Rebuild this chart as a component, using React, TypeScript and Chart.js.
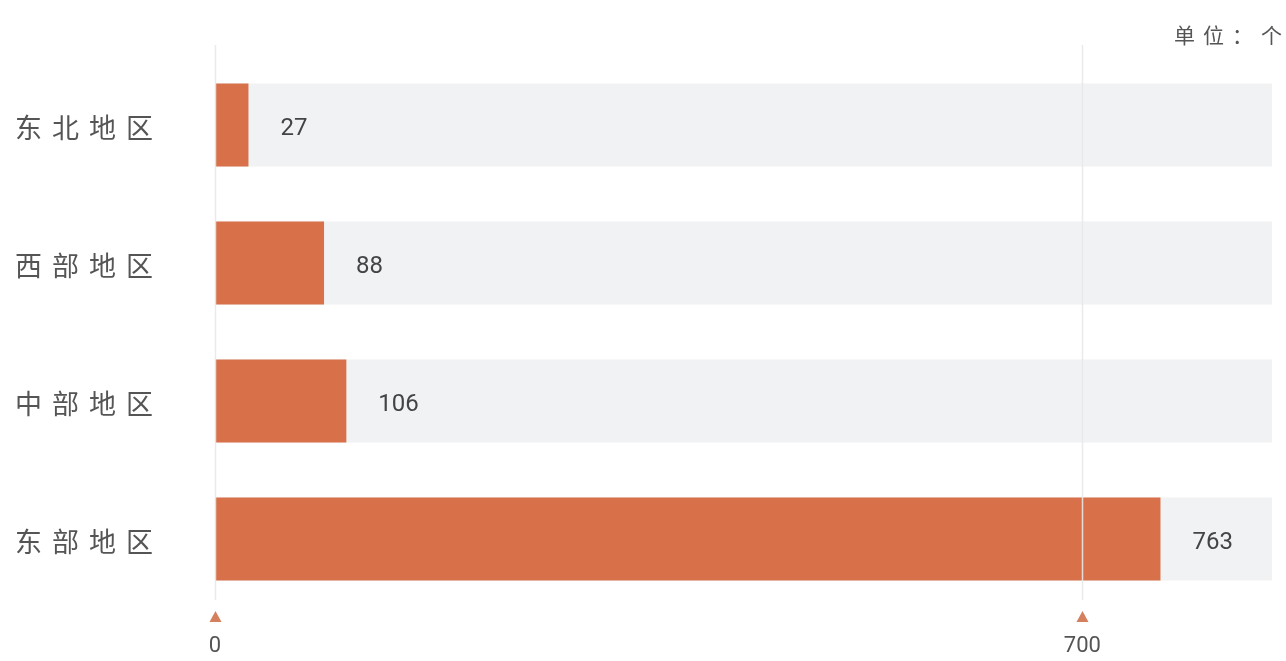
import React, { useEffect, useRef } from "react";
import { Chart, registerables } from "chart.js";

Chart.register(...registerables);

const categories = ["东北地区", "西部地区", "中部地区", "东部地区"];
const values = [27, 88, 106, 763];
const tickValues = [0, 700];
const axisMax = 853;
const unitLabel = "单位：个";

const ORANGE = "#d8714a";
const TRACK = "#f1f2f4";

const decorPlugin = {
  id: "decor",
  afterDatasetsDraw(chart: any) {
    const ctx = chart.ctx;
    const x = chart.scales.x;
    ctx.save();
    ctx.strokeStyle = "rgba(232,232,232,0.9)";
    ctx.lineWidth = 1.5;
    tickValues.forEach((v) => {
      const px = Math.round(x.getPixelForValue(v)) + 0.5;
      ctx.beginPath();
      ctx.moveTo(px, 45);
      ctx.lineTo(px, 600);
      ctx.stroke();
      ctx.fillStyle = "#d4805e";
      ctx.beginPath();
      ctx.moveTo(px - 6, 622);
      ctx.lineTo(px + 6, 622);
      ctx.lineTo(px, 611);
      ctx.closePath();
      ctx.fill();
    });
    const meta = chart.getDatasetMeta(0);
    ctx.fillStyle = "#444";
    ctx.font = "24px Roboto, 'Noto Sans', sans-serif";
    ctx.textBaseline = "middle";
    ctx.textAlign = "left";
    meta.data.forEach((bar: any, i: number) => {
      ctx.fillText(String(values[i]), bar.x + 32, bar.y + 4);
    });
    const y = chart.scales.y;
    ctx.fillStyle = "#555";
    ctx.font = "27px 'Noto Sans CJK SC', sans-serif";
    (ctx as any).letterSpacing = "10px";
    categories.forEach((c, i) => {
      ctx.fillText(c, 15, y.getPixelForValue(i) + 3);
    });
    ctx.font = "21px 'Noto Sans CJK SC', sans-serif";
    ctx.textAlign = "right";
    (ctx as any).letterSpacing = "8px";
    ctx.fillText(unitLabel, 1290, 35);
    (ctx as any).letterSpacing = "0px";
    ctx.restore();
  },
};

export default function App() {
  const ref = useRef<HTMLCanvasElement | null>(null);
  useEffect(() => {
    if (!ref.current) return;
    const chart = new Chart(ref.current, {
      type: "bar",
      data: {
        labels: categories,
        datasets: [
          {
            data: values,
            backgroundColor: ORANGE,
            barPercentage: 0.6,
            categoryPercentage: 1,
            grouped: false,
          },
          {
            data: categories.map(() => axisMax),
            backgroundColor: TRACK,
            barPercentage: 0.6,
            categoryPercentage: 1,
            grouped: false,
          },
        ],
      },
      options: {
        indexAxis: "y",
        animation: false,
        responsive: true,
        maintainAspectRatio: false,
        layout: { padding: { top: 56, right: 14, left: 0, bottom: 0 } },
        plugins: {
          legend: { display: false },
          tooltip: { enabled: false },
        },
        scales: {
          x: {
            min: 0,
            max: axisMax,
            afterBuildTicks(scale: any) {
              scale.ticks = tickValues.map((v) => ({ value: v }));
            },
            afterFit(scale: any) {
              scale.height = 53;
            },
            grid: { display: false, drawTicks: false },
            border: { display: false },
            ticks: {
              color: "#555",
              font: { size: 22, family: "Roboto, 'Noto Sans', sans-serif" },
              padding: 25,
            },
          },
          y: {
            grid: { display: false, drawTicks: false },
            border: { display: false },
            ticks: { display: false },
            afterFit(scale: any) {
              scale.width = 215;
            },
          },
        },
      },
      plugins: [decorPlugin],
    });
    return () => chart.destroy();
  }, []);
  return (
    <div style={{ position: "fixed", left: 0, top: 0, width: 1286, height: 661 }}>
      <canvas ref={ref} />
    </div>
  );
}
